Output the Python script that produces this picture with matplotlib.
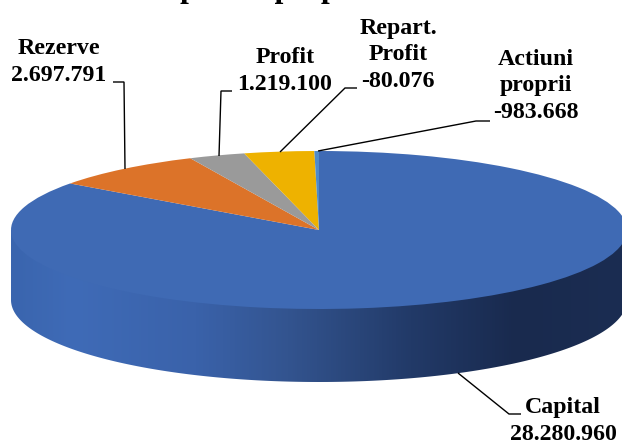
import numpy as np
import matplotlib
matplotlib.use('Agg')
import matplotlib.pyplot as plt
from matplotlib.colors import LinearSegmentedColormap
from matplotlib.patches import Polygon

plt.rcParams['font.family'] = ['Liberation Serif', 'DejaVu Serif']

# Slices clockwise from the top
slice_values = [28280960, 2697791, 983668, 1219100, 80076]
slice_colors = ['#3f6ab4', '#dc7329', '#9a9a9a', '#eeb200', '#4f8bc9']

title = 'Capitalul propriu'
labels = ['Capital\n28.280.960', 'Rezerve\n2.697.791', 'Profit\n1.219.100',
          'Repart.\nProfit\n-80.076', 'Actiuni\nproprii\n-983.668']
label_x = [563, 59, 285, 398, 536]
label_y = [421, 62, 71, 55, 86]
leader_x = [[458, 509, 521], [113, 124, 125], [232, 221, 219], [357, 345, 280], [490, 476, 318]]
leader_y = [[373, 414, 414], [82, 82, 169], [91, 91, 156], [88, 88, 152], [121, 121, 151]]

# Ellipse position in pixels
cx, cy = 319, 230
rx, ry = 308, 79
depth = 70 / ry
bottom_scale = 82 / ry

W, H = 622, 444
fig = plt.figure(figsize=(W / 100, H / 100), dpi=100)
ax = fig.add_axes([0, 0, 1, 1])

wall_cmap = LinearSegmentedColormap.from_list('wall', [
    (0.0, '#3a65ae'), (0.1, '#3f6bb7'), (0.3, '#3a62aa'), (0.45, '#33548f'),
    (0.65, '#223a68'), (0.82, '#192a4e'), (1.0, '#1b2d52')])

# Side wall runs under the top face so no seam shows
t = np.linspace(np.pi, 2 * np.pi, 300)
wall_x = np.concatenate([[-1], np.cos(t), [1]])
wall_y = np.concatenate([[0], bottom_scale * np.sin(t) - depth, [0]])
wall = Polygon(np.column_stack([wall_x, wall_y]), closed=True, transform=ax.transData,
               facecolor='none', edgecolor='none')
ax.add_patch(wall)
img = ax.imshow(np.linspace(0, 1, 512).reshape(1, -1), cmap=wall_cmap, aspect='auto',
                extent=[-1, 1, -depth - bottom_scale, 0], zorder=1)
img.set_clip_path(wall)

wedges, _ = ax.pie(slice_values, colors=slice_colors, startangle=90, counterclock=False,
                   radius=1, wedgeprops={'linewidth': 0, 'zorder': 2})

# Unit circle squashed into the pixel ellipse
ax.set_aspect('auto')
ax.set_xlim((0 - cx) / rx, (W - cx) / rx)
ax.set_ylim((cy - H) / ry, cy / ry)
ax.axis('off')

# Overlay in image pixels for the labels and leader lines
ov = fig.add_axes([0, 0, 1, 1], facecolor='none')
ov.set_xlim(0, W)
ov.set_ylim(H, 0)
ov.axis('off')

for xs, ys in zip(leader_x, leader_y):
    ov.plot(xs, ys, color='black', lw=1.0, solid_capstyle='butt', solid_joinstyle='miter')

for text, x, y in zip(labels, label_x, label_y):
    ov.text(x, y, text, ha='center', va='center', fontsize=17.2, fontweight='bold',
            linespacing=1.33, color='black')

ov.text(142, -3, title, ha='left', va='baseline', fontsize=22.5, fontweight='bold',
        color='black', clip_on=False)

fig.savefig('out.png', dpi=100)
